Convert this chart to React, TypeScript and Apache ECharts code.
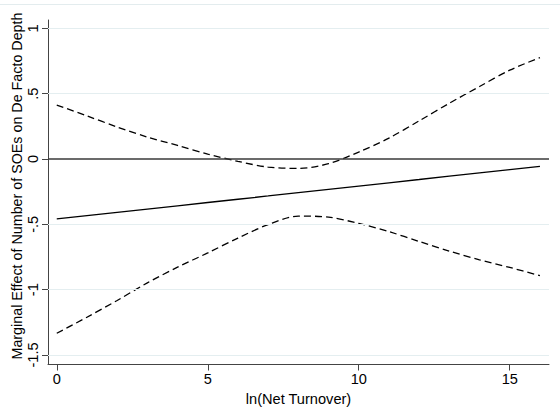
import React, { useEffect, useRef } from "react";
import * as echarts from "echarts";

const xValues = [0, 1, 2, 3, 4, 5, 6, 7, 8, 9, 10, 11, 12, 13, 14, 15, 16];
const effect = [-0.459, -0.434, -0.409, -0.383, -0.358, -0.333, -0.308, -0.283, -0.257, -0.232, -0.207, -0.182, -0.157, -0.131, -0.106, -0.081, -0.056];
const upperCI = [0.413, 0.33, 0.245, 0.168, 0.104, 0.038, -0.018, -0.062, -0.072, -0.036, 0.053, 0.16, 0.292, 0.427, 0.555, 0.68, 0.776];
const lowerCI = [-1.334, -1.211, -1.083, -0.948, -0.828, -0.719, -0.605, -0.502, -0.437, -0.445, -0.493, -0.556, -0.631, -0.705, -0.772, -0.83, -0.893];
const xTicks = [0, 5, 10, 15];
const yTicks = [-1.5, -1, -0.5, 0, 0.5, 1];
const xTitle = "ln(Net Turnover)";
const yTitle = "Marginal Effect of Number of SOEs on De Facto Depth";

const stataLabel = (v: number) => {
  if (v === 0) return "0";
  const s = String(v);
  return s.replace(/^(-?)0\./, "$1.");
};

export default function App() {
  const ref = useRef<HTMLDivElement>(null);
  useEffect(() => {
    if (!ref.current) return;
    const chart = echarts.init(ref.current, undefined, { renderer: "svg" });
    const font = "'Liberation Sans', Arial, sans-serif";
    const pair = (ys: number[]) => xValues.map((x, i) => [x, ys[i]]);
    chart.setOption({
      animation: false,
      backgroundColor: "#ffffff",
      textStyle: { fontFamily: font },
      grid: { left: 48, top: 20, right: 11, bottom: 55.5, containLabel: false },
      graphic: [
        {
          type: "line",
          shape: { x1: 0, y1: 4.5, x2: 560, y2: 4.5 },
          style: { stroke: "#e3ecee", lineWidth: 1 },
          silent: true,
        },
        {
          type: "text",
          x: 17,
          y: 186,
          rotation: Math.PI / 2,
          silent: true,
          style: {
            text: yTitle,
            fontSize: 14.3,
            fontFamily: font,
            fill: "#000",
            align: "center",
            verticalAlign: "middle",
          },
        },
      ],
      xAxis: {
        type: "value",
        min: -0.29,
        max: 16.3,
        name: xTitle,
        nameLocation: "middle",
        nameGap: 25,
        nameTextStyle: { fontSize: 14.6, color: "#000", fontFamily: font },
        axisLine: { show: true, onZero: false, lineStyle: { color: "#444", width: 1 } },
        axisTick: { show: true, customValues: xTicks, length: 6, lineStyle: { color: "#444" } },
        axisLabel: { customValues: xTicks, fontSize: 14.6, color: "#000", margin: 7, fontFamily: font },
        splitLine: { show: false },
      },
      yAxis: {
        type: "value",
        min: -1.573,
        max: 1.064,
        axisLine: { show: true, onZero: false, lineStyle: { color: "#444", width: 1 } },
        axisTick: { show: true, customValues: yTicks, length: 6, lineStyle: { color: "#444" } },
        axisLabel: {
          customValues: yTicks,
          rotate: 90,
          fontSize: 14.6,
          color: "#000",
          margin: 8,
          fontFamily: font,
          formatter: (v: number) => stataLabel(v),
        },
        splitLine: { show: false },
      },
      series: [
        {
          type: "line",
          data: pair(upperCI),
          showSymbol: false,
          smooth: 0.3,
          lineStyle: { color: "#000", width: 1.3, type: [7, 4] },
          markLine: {
            silent: true,
            symbol: "none",
            label: { show: false },
            data: yTicks
              .filter((v) => v !== 0)
              .map((v) => ({ yAxis: v, lineStyle: { color: "#e4eef0", width: 1, type: "solid" } }))
              .concat([{ yAxis: 0, lineStyle: { color: "#3a3a3a", width: 1.6, type: "solid" } }]),
          },
          z: 3,
        },
        {
          type: "line",
          data: pair(lowerCI),
          showSymbol: false,
          smooth: 0.3,
          lineStyle: { color: "#000", width: 1.3, type: [7, 4] },
          z: 3,
        },
        {
          type: "line",
          data: pair(effect),
          showSymbol: false,
          lineStyle: { color: "#000", width: 1.3, type: "solid" },
          z: 3,
        },
      ],
    });
    return () => chart.dispose();
  }, []);
  return (
    <div
      ref={ref}
      style={{ position: "fixed", left: 0, top: 0, width: 560, height: 420, background: "#fff" }}
    />
  );
}
